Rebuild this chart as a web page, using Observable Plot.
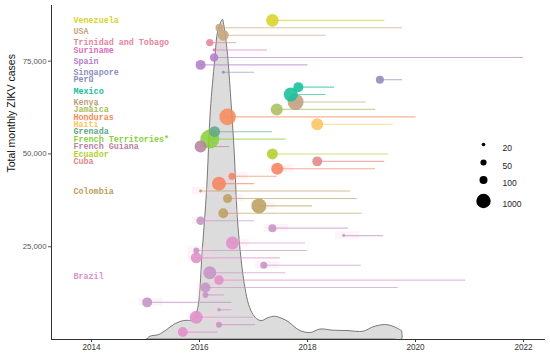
<!DOCTYPE html>
<html>
<head>
<meta charset="utf-8">
<script src="https://cdn.jsdelivr.net/npm/d3@7"></script>
<script src="https://cdn.jsdelivr.net/npm/@observablehq/plot@0.6"></script>
<style>
  body { margin: 0; background: white; }
  #chart svg { display: block; }
</style>
</head>
<body>
<div id="chart"></div>
<script>
// ---- Data ----
const rowCountry = [
  "Venezuela","USA","USA","Trinidad and Tobago","Suriname","Spain","Spain","Singapore","Peru",
  "Mexico","Mexico","Kenya","Jamaica","Honduras","Haiti","Grenada","French Territories*",
  "French Guiana","Ecuador","Cuba",
  "Colombia","Colombia","Colombia","Colombia","Colombia","Colombia","Colombia",
  "Brazil","Brazil","Brazil","Brazil","Brazil","Brazil","Brazil","Brazil","Brazil","Brazil",
  "Brazil","Brazil","Brazil","Brazil","Brazil","Brazil"
];
const rowGroup = [
  "Venezuela","USA","USA","Trinidad and Tobago","Suriname","Spain","Spain","Singapore","Peru",
  "Mexico","Mexico","Kenya","Jamaica","Honduras","Haiti","Grenada","French Territories*",
  "French Guiana","Ecuador","Cuba",
  "Colombia-2","Colombia-2","Colombia-2","Colombia","Colombia","Colombia","Colombia",
  "Brazil-2","Brazil-2","Brazil-2","Brazil","Brazil-2","Brazil","Brazil-2","Brazil-2","Brazil","Brazil-2",
  "Brazil-2","Brazil-2","Brazil-2","Brazil","Brazil-2","Brazil"
];
const rowY = [
  86000,84000,82000,80000,78000,76000,74000,72000,70000,68000,
  66000,64000,62000,60000,58000,56000,54000,52000,50000,48000,
  46000,44000,42000,40000,38000,36000,34000,32000,30000,28000,
  26000,24000,22000,20000,18000,16000,14000,12000,10000,8000,
  6000,4000,2000
];
const rowStart = [
  2017.35,2016.37,2016.44,2016.19,2016.27,2016.27,2016.02,2016.44,2019.34,2017.83,
  2017.69,2017.78,2017.43,2016.52,2018.18,2016.28,2016.19,2016.02,2017.35,2018.18,
  2017.44,2016.60,2016.36,2016.02,2016.52,2017.10,2016.44,2016.02,2017.35,2018.67,
  2016.61,2015.94,2015.94,2017.19,2016.19,2016.36,2016.11,2016.11,2015.03,2016.36,
  2015.94,2016.36,2015.69
];
const rowEnd = [
  2019.43,2019.76,2018.35,2016.69,2017.26,2022.00,2018.01,2017.02,2019.76,2018.50,
  2018.34,2019.09,2019.26,2020.01,2019.59,2017.35,2017.60,2016.56,2019.50,2019.43,
  2019.26,2017.44,2017.02,2018.80,2018.92,2018.09,2019.01,2017.02,2018.76,2019.41,
  2017.96,2018.00,2017.50,2019.00,2017.60,2020.93,2019.68,2016.46,2016.60,2016.60,
  2017.00,2017.04,2016.34
];
const rowSize = [
  520,100,290,80,16,120,200,16,100,200,
  870,1790,420,2220,420,290,5280,420,290,200,
  420,70,870,16,140,1240,200,120,100,16,
  600,48,290,70,600,176,200,48,200,20,
  600,48,200
];

// total monthly cases (grey density)
const densX = [2015.03,2015.09,2015.25,2015.40,2015.56,2015.71,2015.89,2015.97,2016.06,2016.14,
  2016.21,2016.29,2016.35,2016.435,2016.45,2016.52,2016.59,2016.65,2016.71,2016.78,
  2016.85,2016.92,2017.00,2017.09,2017.17,2017.24,2017.38,2017.50,2017.65,2017.76,
  2017.87,2018.06,2018.24,2018.48,2018.74,2019.04,2019.22,2019.44,2019.59,2019.75,2019.75];
const densY = [0,750,1200,2550,4170,4970,5240,7930,24060,40190,
  61690,75130,83200,86160,85350,77820,64380,50940,32660,21370,
  13840,9270,6590,5240,4970,5510,6130,5780,4700,3360,
  2280,1750,2690,2370,2280,2100,3280,3900,3440,2280,0];

const xTicks = [2014, 2016, 2018, 2020, 2022];
const yTicks = [25000, 50000, 75000];
const legendValues = [20, 50, 100, 1000];

const groupNames = ["Venezuela","USA","Trinidad and Tobago","Suriname","Spain","Singapore","Peru",
  "Mexico","Kenya","Jamaica","Honduras","Haiti","Grenada","French Territories*","French Guiana",
  "Ecuador","Cuba","Colombia","Colombia-2","Brazil","Brazil-2"];
const groupColors = ["#d8d428","#c9a47c","#e8849c","#d873b8","#b47ec8","#8e8ec0","#8a8cbc",
  "#14c09c","#bf9f7c","#a8c05c","#f58a5c","#fbc462","#62a88a","#88d03c","#b7849f",
  "#b2d030","#e18888","#bba060","#f5845e","#e090c8","#c494c4"];

// ---- Build tables ----
const rows = rowCountry.map((c, i) => ({
  country: c, group: rowGroup[i], y: rowY[i], start: rowStart[i], end: rowEnd[i], size: rowSize[i]
}));
const dens = densX.map((x, i) => ({x, y: densY[i]}));
const labels = Array.from(d3.group(rows, d => d.country), ([country, rs]) => ({
  country, y: d3.mean(rs, d => d.y)
}));
const halo = rows.filter(d => d.country === "Brazil" || d.country === "Colombia");

const xDomain = [2013.259, 2022.407];
const yDomain = [0, 90000];

const legendMarks = legendValues.flatMap((v, i) => {
  const dy = [139, 157, 174.5, 195.5][i];
  return [
    Plot.dot([v], {r: d => d, fill: "black", frameAnchor: "top-right", dx: -62, dy}),
    Plot.text([v], {text: d => String(d), frameAnchor: "top-right", dx: -43, dy, textAnchor: "start", fontSize: 8.5, fill: "#222"})
  ];
});

const chart = Plot.plot({
  width: 550,
  height: 357,
  marginLeft: 51,
  marginRight: 5,
  marginTop: 5,
  marginBottom: 18,
  style: {fontFamily: "Liberation Sans, Arial, sans-serif", background: "white"},
  x: {domain: xDomain},
  y: {domain: yDomain},
  r: {type: "log", domain: [20, 1000], range: [1.8, 7.2]},
  color: {domain: groupNames, range: groupColors},
  marks: [
    Plot.areaY(dens, {x: "x", y: "y", fill: "#dcdcdc", stroke: "#5a5a5a", strokeWidth: 0.8, curve: "catmull-rom"}),
    Plot.rect(halo, {x1: d => d.start - 0.15, x2: d => d.start + 0.3, y1: d => d.y - 1000, y2: d => d.y + 1000, fill: "#f9cfe8", fillOpacity: 0.25}),
    Plot.ruleY(rows, {y: "y", x1: "start", x2: "end", stroke: "group", strokeOpacity: 0.65, strokeWidth: 1.1}),
    Plot.dot(rows, {x: "start", y: "y", r: "size", fill: "group", fillOpacity: 0.88}),
    Plot.text(labels, {y: "y", text: "country", fill: "country", frameAnchor: "left", dx: 22, textAnchor: "start",
      fontFamily: "Liberation Mono, Courier New, monospace", fontWeight: "bold", fontSize: 8.4, letterSpacing: "0.4px"}),
    Plot.ruleY([yDomain[0]], {stroke: "#333", strokeWidth: 1}),
    Plot.ruleX([xDomain[0]], {stroke: "#333", strokeWidth: 1}),
    Plot.axisX({ticks: xTicks, tickFormat: d => String(d), tickSize: 3, tickPadding: 2, fontSize: 8.2, label: null, color: "#333"}),
    Plot.axisY({ticks: yTicks, tickFormat: d3.format(","), tickSize: 3, tickPadding: 2, fontSize: 7.8, label: null, color: "#555"}),
    Plot.text(["Total monthly ZIKV cases"], {frameAnchor: "left", dx: -40, rotate: -90, fontSize: 10.5, fill: "#111"}),
    ...legendMarks
  ]
});
document.getElementById("chart").appendChild(chart);
</script>
</body>
</html>
